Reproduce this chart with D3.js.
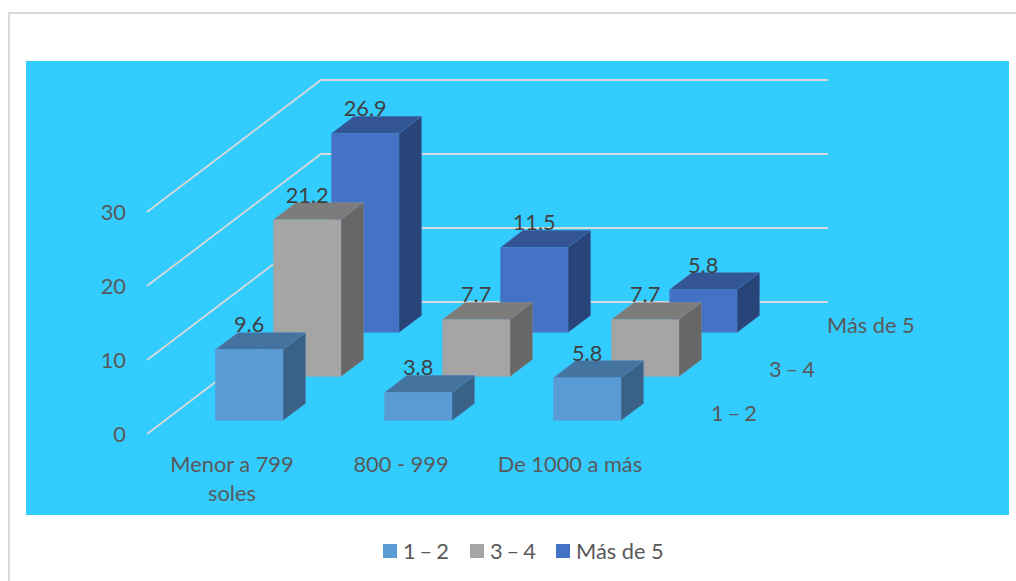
<!DOCTYPE html>
<html>
<head>
<meta charset="utf-8">
<style>
  html, body { margin: 0; padding: 0; background: #fff; }
  svg { display: block; }
  text { font-family: Lato, "Open Sans", sans-serif; }
</style>
</head>
<body>
<svg id="chart" width="1016" height="581"></svg>
<script src="https://cdn.jsdelivr.net/npm/d3@7/dist/d3.min.js"></script>
<script>
const categories = [["Menor a 799", "soles"], ["800 - 999"], ["De 1000 a más"]];
const seriesNames = ["1 – 2", "3 – 4", "Más de 5"];
const valuesLow = [9.6, 3.8, 5.8];
const valuesMid = [21.2, 7.7, 7.7];
const valuesHigh = [26.9, 11.5, 5.8];
const yTicks = [0, 10, 20, 30];

const seriesValues = [valuesLow, valuesMid, valuesHigh];
const faceColors = [
  { front: "#5b9bd5", top: "#44739f", side: "#3a6186", edge: "#5b9bd5" },
  { front: "#a5a5a5", top: "#7c7c7c", side: "#676767", edge: "#8f9ea6" },
  { front: "#4472c4", top: "#335593", side: "#294478", edge: "#4a86cf" }
];
const labelSize = 21.8;
// Narrow spaces around the en dash in the series names
const dashSpacing = name => name.includes("–") ? "-1.6px" : null;

const svg = d3.select("#chart");

// Frame and plot background
svg.append("path")
  .attr("d", "M9 581V13H1016")
  .attr("fill", "none")
  .attr("stroke", "#d9d9d9")
  .attr("stroke-width", 2);
svg.append("rect")
  .attr("x", 26).attr("y", 61)
  .attr("width", 983).attr("height", 454)
  .attr("fill", "#33ccff");

// Oblique projection: floor origin, width along x, depth vector, height along y
const origin = { x: 147, y: 434 };
const depthVector = { x: 174, y: -132 };
const xBand = d3.scaleBand().domain(d3.range(categories.length))
  .range([0, 507]).paddingInner(0.6).paddingOuter(0.3);
const zBand = d3.scaleBand().domain(d3.range(seriesNames.length))
  .range([0, 1]).paddingInner(0.61).paddingOuter(0.305);
const yHeight = d3.scaleLinear().domain([0, 30]).range([0, 222]);

const project = (x, z, v) => [
  origin.x + x + z * depthVector.x,
  origin.y + z * depthVector.y - yHeight(v)
];
const polygon = pts => "M" + pts.map(p => p.join(",")).join("L") + "Z";

// Gridlines run up the left wall and across the back wall
const gridG = svg.append("g");
yTicks.forEach(t => {
  const a = project(0, 0, t), b = project(0, 1, t), c = project(507, 1, t);
  gridG.append("path")
    .attr("d", d3.line()([a, b, c]))
    .attr("fill", "none")
    .attr("stroke", "#d9d9d9")
    .attr("stroke-width", 1.8);
  svg.append("text")
    .attr("x", 126).attr("y", a[1] + 8)
    .attr("text-anchor", "end")
    .attr("font-size", labelSize)
    .attr("fill", "#595959")
    .text(t);
});

// Bars: farthest series first so nearer ones overlap them
const barsG = svg.append("g");
const labelsG = svg.append("g");
d3.range(seriesNames.length).reverse().forEach(s => {
  const col = faceColors[s];
  seriesValues[s].forEach((v, c) => {
    const x0 = xBand(c), x1 = x0 + xBand.bandwidth();
    const z0 = zBand(s), z1 = z0 + zBand.bandwidth();
    const faces = [
      { pts: [project(x0, z0, v), project(x1, z0, v), project(x1, z1, v), project(x0, z1, v)], fill: col.top },
      { pts: [project(x1, z0, 0), project(x1, z1, 0), project(x1, z1, v), project(x1, z0, v)], fill: col.side },
      { pts: [project(x0, z0, 0), project(x1, z0, 0), project(x1, z0, v), project(x0, z0, v)], fill: col.front }
    ];
    barsG.selectAll(null).data(faces).enter().append("path")
      .attr("d", d => polygon(d.pts))
      .attr("fill", d => d.fill)
      .attr("stroke", col.edge)
      .attr("stroke-opacity", 0.55)
      .attr("stroke-width", 0.6)
      .attr("stroke-linejoin", "round");

    const [cx] = project((x0 + x1) / 2, z0, v);
    const [, backTop] = project(x0, z1, v);
    labelsG.append("text")
      .attr("x", cx).attr("y", backTop)
      .attr("text-anchor", "middle")
      .attr("font-size", labelSize)
      .attr("fill", "#404040")
      .text(v.toFixed(1));
  });
});

// Category labels below the front edge of the floor
categories.forEach((lines, c) => {
  const cx = project(xBand(c) + xBand.bandwidth() / 2, 0, 0)[0];
  const t = svg.append("text")
    .attr("text-anchor", "middle")
    .attr("font-size", labelSize)
    .attr("fill", "#595959");
  lines.forEach((line, i) => {
    t.append("tspan").attr("x", cx + 0.5).attr("y", 472 + i * 29).text(line);
  });
});

// Series labels along the right edge of the floor
seriesNames.forEach((name, s) => {
  const z = zBand(s) + zBand.bandwidth() / 2;
  const p = project(507, z, 0);
  svg.append("text")
    .attr("x", p[0] + 28).attr("y", p[1] + 9)
    .attr("font-size", labelSize)
    .attr("fill", "#595959")
    .style("word-spacing", dashSpacing(name))
    .text(name);
});

// Legend
const legendX = [383, 470, 556];
seriesNames.forEach((name, s) => {
  svg.append("rect")
    .attr("x", legendX[s]).attr("y", 544)
    .attr("width", 14).attr("height", 14)
    .attr("fill", faceColors[s].front);
  svg.append("text")
    .attr("x", legendX[s] + 20).attr("y", 559)
    .attr("font-size", labelSize)
    .attr("fill", "#595959")
    .style("word-spacing", dashSpacing(name))
    .text(name);
});
</script>
</body>
</html>
